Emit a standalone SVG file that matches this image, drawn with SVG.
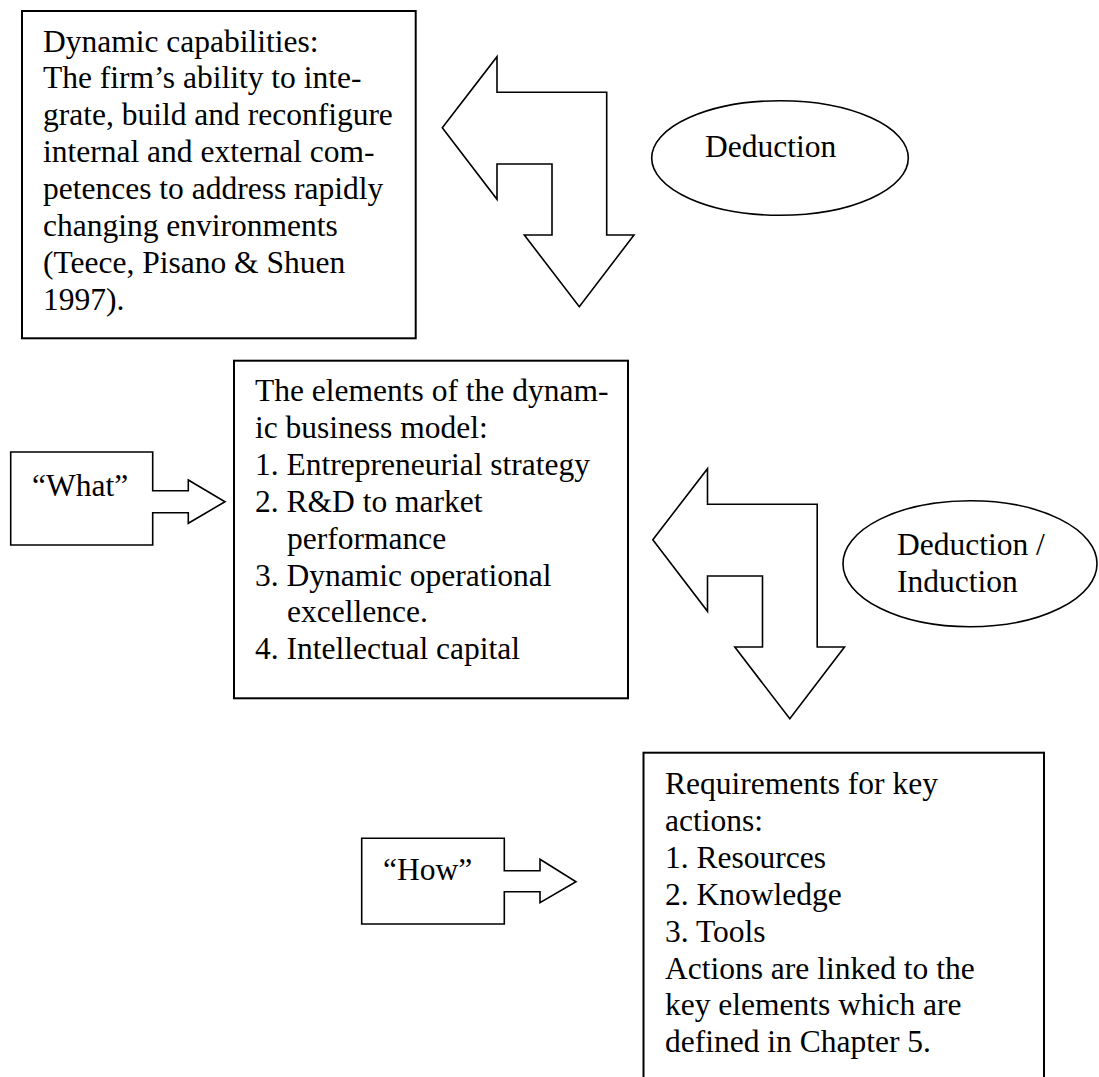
<svg xmlns="http://www.w3.org/2000/svg" width="1099" height="1077" viewBox="0 0 1099 1077">
  <style>
    .box { fill: #fff; stroke: #000; stroke-width: 2; }
    .shape { fill: #fff; stroke: #000; stroke-width: 1.6; stroke-linejoin: miter; }
    text { font-family: "Liberation Serif", "Times New Roman", serif; font-size: 31.5px; fill: #000; }
  </style>
  <rect width="1099" height="1077" fill="#fff"/>

  <!-- bent double-headed arrows between the levels -->
  <g id="connectors">
    <polygon id="arrow-deduction" class="shape" points="442.3,127.7 497,56.7 497,92.3 606.7,92.3 606.7,235 634,235 579.3,306.7 524.3,235 552,235 552,164 497,164 497,199.3"/>
    <polygon id="arrow-deduction-induction" class="shape" points="652.8,539.7 707.5,468.7 707.5,504.3 817.2,504.3 817.2,647 844.5,647 789.8,718.7 734.8,647 762.5,647 762.5,576 707.5,576 707.5,611.3"/>
  </g>

  <g id="dynamic-capabilities">
    <rect class="box" x="22" y="11" width="393.7" height="327.3"/>
    <text x="43" y="51.5">Dynamic capabilities:</text>
    <text x="43" y="88.4">The firm’s ability to inte-</text>
    <text x="43" y="125.3">grate, build and reconfigure</text>
    <text x="43" y="162.2">internal and external com-</text>
    <text x="43" y="199.1">petences to address rapidly</text>
    <text x="43" y="236">changing environments</text>
    <text x="43" y="272.9">(Teece, Pisano &amp; Shuen</text>
    <text x="43" y="309.8">1997).</text>
  </g>

  <g id="deduction">
    <ellipse class="shape" cx="780" cy="158" rx="128.3" ry="57.3"/>
    <text x="705" y="157">Deduction</text>
  </g>

  <g id="what">
    <path class="shape" d="M10.7,452 H152.7 V490.7 H188.3 V480 L225,501.7 L188.3,523.3 V512.7 H152.7 V545 H10.7 Z"/>
    <text x="32" y="496">“What”</text>
  </g>

  <g id="business-model">
    <rect class="box" x="234" y="360.7" width="394" height="337.6"/>
    <text x="255" y="401">The elements of the dynam-</text>
    <text x="255" y="437.9">ic business model:</text>
    <text x="255" y="474.8">1. Entrepreneurial strategy</text>
    <text x="255" y="511.7">2. R&amp;D to market</text>
    <text x="287" y="548.6">performance</text>
    <text x="255" y="585.5">3. Dynamic operational</text>
    <text x="287" y="622.4">excellence.</text>
    <text x="255" y="659.3">4. Intellectual capital</text>
  </g>

  <g id="deduction-induction">
    <ellipse class="shape" cx="970" cy="563.7" rx="127" ry="63"/>
    <text x="897" y="555">Deduction /</text>
    <text x="897" y="592">Induction</text>
  </g>

  <g id="how">
    <path class="shape" d="M361.7,838.3 H504.3 V870.7 H540 V859.3 L576,881.7 L540,902.7 V891.7 H504.3 V924 H361.7 Z"/>
    <text x="383" y="880">“How”</text>
  </g>

  <g id="requirements">
    <rect class="box" x="643.5" y="752.7" width="400.5" height="340"/>
    <text x="665" y="794">Requirements for key</text>
    <text x="665" y="830.9">actions:</text>
    <text x="665" y="867.8">1. Resources</text>
    <text x="665" y="904.7">2. Knowledge</text>
    <text x="665" y="941.6">3. Tools</text>
    <text x="665" y="978.5">Actions are linked to the</text>
    <text x="665" y="1015.4">key elements which are</text>
    <text x="665" y="1052.3">defined in Chapter 5.</text>
  </g>
</svg>
